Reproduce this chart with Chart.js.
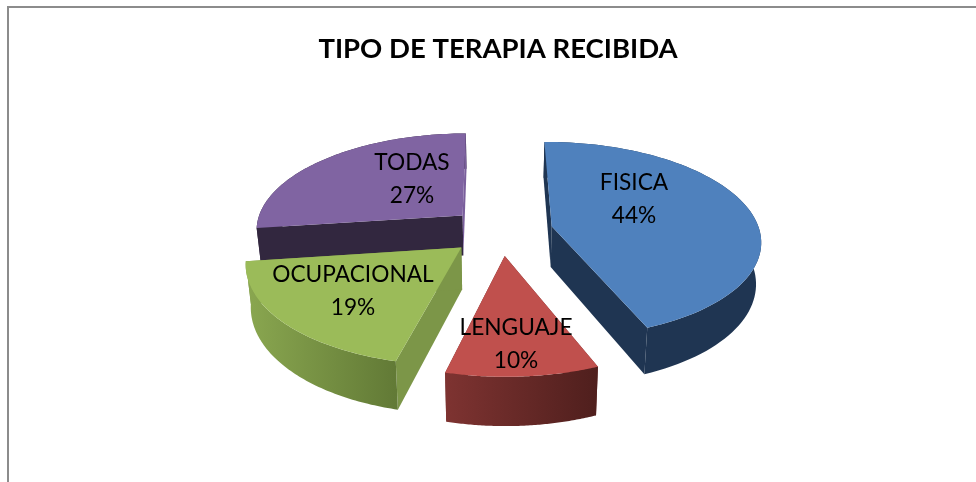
<!DOCTYPE html>
<html><head><meta charset="utf-8">
<style>html,body{margin:0;padding:0;background:#fff}#w{position:relative;width:976px;height:482px}
canvas{position:absolute;left:0;top:0}</style>
<script src="https://cdn.jsdelivr.net/npm/chart.js@4"></script></head>
<body><div id="w"><canvas id="c" width="976" height="482"></canvas></div>
<script>
const categories = ['FISICA','LENGUAJE','OCUPACIONAL','TODAS'];
const values = [44,10,19,27];
const topColors = ['#4f81bd','#c0504d','#9bbb59','#8064a2'];
const wallLeft = ['#1f3552','#7e3331','#8aa750','#32273f'];
const wallRight = ['#1f3552','#4f1f1d','#627a36','#32273f'];
const startWall = ['#1f3552','#6b2c2a','#7c9648','#32273f'];
const endWall = ['#1f3552','#6b2c2a','#7c9648','#7a5f9c'];
const labelPos = [[634,183],[516,328],[353,275],[412,163]];
const paintOrder = [3,0,2,1];

// perspective projection of the pie plane (unit radius)
const P = {cx:501, cy:231, A:208, B:97, k:0.135, D:41, shrink:0.98, explode:0.25};
function proj(x,y){const w=1-P.k*y;return {x:P.cx+P.A*x/w,y:P.cy+P.B*y/w,w};}
function lower(p){return {x:P.cx+(p.x-P.cx)*P.shrink,y:p.y+P.D/p.w};}

const pie3d = {
  id:'pie3d',
  beforeDatasetDraw(chart){
    const ctx=chart.ctx, meta=chart.getDatasetMeta(0);
    paintOrder.forEach(i=>{
      const a=meta.data[i], s=a.startAngle, e=a.endAngle, m=(s+e)/2;
      const ox=P.explode*Math.cos(m), oy=P.explode*Math.sin(m);
      const apex=proj(ox,oy), arc=[];
      const n=80;
      for(let j=0;j<=n;j++){const t=s+(e-s)*j/n;arc.push(proj(ox+Math.cos(t),oy+Math.sin(t)));}
      const poly=(top,fill)=>{
        ctx.beginPath();
        top.forEach((p,j)=>j?ctx.lineTo(p.x,p.y):ctx.moveTo(p.x,p.y));
        top.slice().reverse().forEach(p=>{const b=lower(p);ctx.lineTo(b.x,b.y);});
        ctx.closePath();ctx.fillStyle=fill;ctx.fill();};
      const endOnTop=arc[n].y<apex.y;
      poly([apex,arc[0]],startWall[i]);
      if(!endOnTop)poly([apex,arc[n]],endWall[i]);
      const xs=arc.map(p=>p.x), g=ctx.createLinearGradient(Math.min(...xs),0,Math.max(...xs),0);
      g.addColorStop(0,wallLeft[i]);g.addColorStop(1,wallRight[i]);
      poly(arc,g);
      if(endOnTop)poly([apex,arc[n]],endWall[i]);
      ctx.beginPath();ctx.moveTo(apex.x,apex.y);arc.forEach(p=>ctx.lineTo(p.x,p.y));ctx.closePath();
      ctx.fillStyle=topColors[i];ctx.fill();
    });
    return false;
  },
  afterDraw(chart){
    const ctx=chart.ctx;
    ctx.save();
    ctx.strokeStyle='#8c8c8c';ctx.lineWidth=2;
    ctx.beginPath();ctx.moveTo(8,482);ctx.lineTo(8,7);ctx.lineTo(976,7);ctx.stroke();
    ctx.fillStyle='#000';ctx.font='22.7px Lato';ctx.textAlign='center';ctx.textBaseline='middle';
    const total=values.reduce((a,b)=>a+b,0);
    categories.forEach((c,i)=>{
      const [x,y]=labelPos[i];
      ctx.fillText(c,x,y);
      ctx.fillText(Math.round(values[i]/total*100)+'%',x,y+33);
    });
    ctx.restore();
  }
};
new Chart(document.getElementById('c'),{
  type:'pie',
  data:{labels:categories,datasets:[{data:values,backgroundColor:topColors,borderWidth:0}]},
  options:{responsive:false,animation:false,rotation:-0.4,
    layout:{padding:{left:20}},
    plugins:{legend:{display:false},tooltip:{enabled:false},
      title:{display:true,text:'TIPO DE TERAPIA RECIBIDA',color:'#000',font:{family:'Lato',size:27.5,weight:'bold'},padding:{top:33,bottom:10}}}},
  plugins:[pie3d]
});
</script></body></html>
